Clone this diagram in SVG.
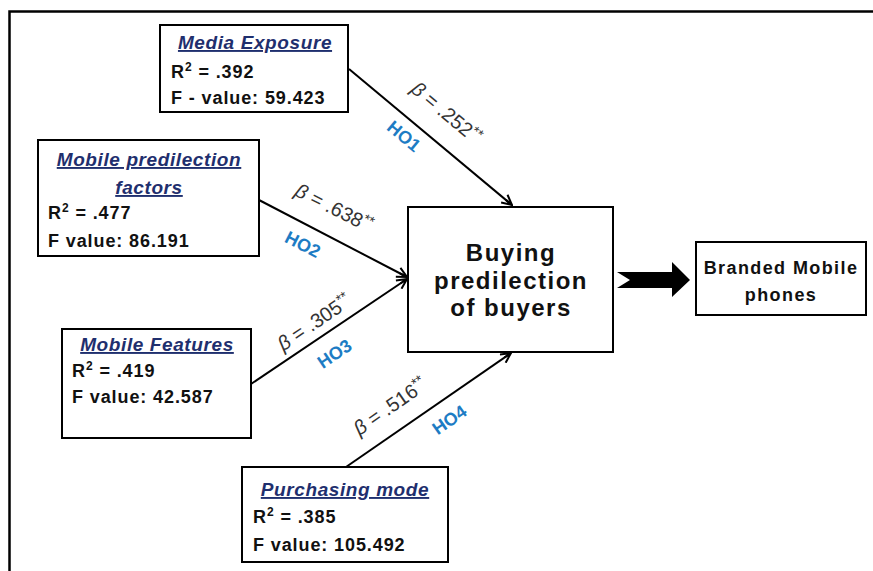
<svg xmlns="http://www.w3.org/2000/svg" width="873" height="571" viewBox="0 0 873 571">
<style>
.box{fill:#fff;stroke:#000;stroke-width:2}
.t{font-family:"Liberation Sans",Arial,sans-serif;font-weight:bold;fill:#111}
.title{font-family:"Liberation Sans",Arial,sans-serif;font-weight:bold;font-style:italic;text-decoration:underline;fill:#1f2f6e;font-size:19px;letter-spacing:0.6px}
.v{font-size:18px;letter-spacing:0.9px}
.beta{font-family:"Liberation Sans",Arial,sans-serif;font-size:20px;fill:#333}
.ho{font-family:"Liberation Sans",Arial,sans-serif;font-weight:bold;font-size:18px;fill:#1d7cc4}
.conn{stroke:#000;stroke-width:2;fill:none;marker-end:url(#ah)}
</style>
<defs>
<marker id="ah" viewBox="0 0 12 12" refX="11" refY="6" markerWidth="12" markerHeight="12" markerUnits="userSpaceOnUse" orient="auto">
<path d="M1,1 L11,6 L1,11 M3,6 L11,6" fill="none" stroke="#000" stroke-width="2"/>
</marker>
</defs>
<rect width="873" height="571" fill="#fff"/>
<path d="M9.5,580 V11.5 H880" fill="none" stroke="#000" stroke-width="2.5"/>

<g id="connectors">
<line class="conn" x1="349" y1="69" x2="512" y2="205"/>
<line class="conn" x1="259" y1="200" x2="407" y2="277"/>
<line class="conn" x1="251" y1="384" x2="407" y2="279"/>
<line class="conn" x1="346" y1="467" x2="511" y2="353"/>
<path d="M617,272 H672 V262 L690,280 L672,297 V288 H617 L630,280 Z" fill="#000"/>
<text class="beta" transform="translate(442,118) rotate(40)" text-anchor="middle"><tspan font-style="italic">β</tspan> = .252<tspan dy="-7" font-size="14">**</tspan></text>
<text class="ho" transform="translate(400,141) rotate(40)" text-anchor="middle">HO1</text>
<text class="beta" transform="translate(331,214) rotate(27)" text-anchor="middle"><tspan font-style="italic">β</tspan> = .638<tspan dy="-7" font-size="14">**</tspan></text>
<text class="ho" transform="translate(300,250) rotate(27)" text-anchor="middle">HO2</text>
<text class="beta" transform="translate(318,328) rotate(-34)" text-anchor="middle"><tspan font-style="italic">β</tspan> = .305<tspan dy="-7" font-size="14">**</tspan></text>
<text class="ho" transform="translate(338,359) rotate(-34)" text-anchor="middle">HO3</text>
<text class="beta" transform="translate(394,412) rotate(-35)" text-anchor="middle"><tspan font-style="italic">β</tspan> = .516<tspan dy="-7" font-size="14">**</tspan></text>
<text class="ho" transform="translate(453,425) rotate(-35)" text-anchor="middle">HO4</text>
</g>

<g id="media-exposure">
<rect class="box" x="160" y="25" width="188" height="87"/>
<text class="title" x="255" y="49" text-anchor="middle">Media Exposure</text>
<text class="t v" x="171" y="78">R<tspan dy="-7" font-size="12">2</tspan><tspan dy="7"> = .392</tspan></text>
<text class="t v" x="171" y="104">F - value: 59.423</text>
</g>

<g id="mobile-predilection">
<rect class="box" x="38" y="140" width="221" height="116"/>
<text class="title" x="149" y="166" text-anchor="middle">Mobile predilection</text>
<text class="title" x="149" y="194" text-anchor="middle">factors</text>
<text class="t v" x="48" y="219">R<tspan dy="-7" font-size="12">2</tspan><tspan dy="7"> = .477</tspan></text>
<text class="t v" x="48" y="247">F value: 86.191</text>
</g>

<g id="mobile-features">
<rect class="box" x="62" y="329" width="189" height="109"/>
<text class="title" x="157" y="351" text-anchor="middle">Mobile Features</text>
<text class="t v" x="72" y="377">R<tspan dy="-7" font-size="12">2</tspan><tspan dy="7"> = .419</tspan></text>
<text class="t v" x="72" y="403">F value: 42.587</text>
</g>

<g id="purchasing-mode">
<rect class="box" x="242" y="467" width="206" height="95"/>
<text class="title" x="345" y="496" text-anchor="middle">Purchasing mode</text>
<text class="t v" x="253" y="523">R<tspan dy="-7" font-size="12">2</tspan><tspan dy="7"> = .385</tspan></text>
<text class="t v" x="253" y="551">F value: 105.492</text>
</g>

<g id="buying-predilection">
<rect class="box" x="408" y="207" width="205" height="145"/>
<text class="t" x="511" y="261" text-anchor="middle" font-size="24" letter-spacing="1.5">Buying</text>
<text class="t" x="511" y="289" text-anchor="middle" font-size="24" letter-spacing="1.5">predilection</text>
<text class="t" x="511" y="316" text-anchor="middle" font-size="24" letter-spacing="1.5">of buyers</text>
</g>

<g id="branded-mobile">
<rect class="box" x="696" y="242" width="170" height="73"/>
<text class="t" x="781" y="274" text-anchor="middle" font-size="18" letter-spacing="1.4">Branded Mobile</text>
<text class="t" x="781" y="301" text-anchor="middle" font-size="18" letter-spacing="1.4">phones</text>
</g>
</svg>
